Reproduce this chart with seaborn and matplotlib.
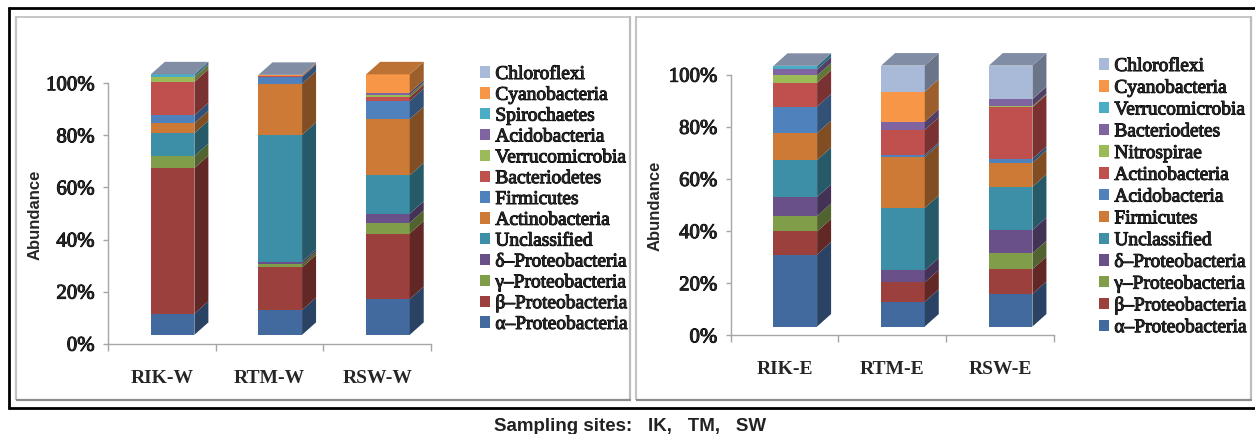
import matplotlib
matplotlib.use('Agg')
import matplotlib.pyplot as plt
import matplotlib.patheffects as pe
from matplotlib.colors import to_rgb
from matplotlib.lines import Line2D
from matplotlib.patches import Patch, Polygon
import numpy as np
import seaborn as sns

nan = float('nan')

west_sites = ['RIK-W', 'RTM-W', 'RSW-W']
west_taxa = ['α–Proteobacteria', 'β–Proteobacteria', 'γ–Proteobacteria', 'δ–Proteobacteria',
             'Unclassified', 'Actinobacteria', 'Firmicutes', 'Bacteriodetes', 'Verrucomicrobia',
             'Acidobacteria', 'Spirochaetes', 'Cyanobacteria', 'Chloroflexi']
west_values = [[8.1, 9.5, 13.7],
               [55.9, 16.4, 25.2],
               [4.6, 1.3, 4.1],
               [0.0, 0.8, 3.5],
               [8.8, 48.8, 14.7],
               [3.8, 19.6, 21.6],
               [3.1, 2.6, 7.0],
               [12.8, 0.2, 1.4],
               [1.7, 0.0, 0.9],
               [0.3, 0.0, 0.9],
               [0.9, 0.2, 0.0],
               [0.0, 0.4, 7.0],
               [0.0, 0.0, nan]]

east_sites = ['RIK-E', 'RTM-E', 'RSW-E']
east_taxa = ['α–Proteobacteria', 'β–Proteobacteria', 'γ–Proteobacteria', 'δ–Proteobacteria',
             'Unclassified', 'Firmicutes', 'Acidobacteria', 'Actinobacteria', 'Nitrospirae',
             'Bacteriodetes', 'Verrucomicrobia', 'Cyanobacteria', 'Chloroflexi']
east_values = [[27.6, 9.5, 12.5],
               [8.9, 7.4, 9.5],
               [5.9, 0.0, 6.1],
               [7.3, 4.6, 8.9],
               [14.2, 24.0, 16.6],
               [10.3, 19.5, 9.2],
               [10.2, 0.8, 1.5],
               [9.1, 9.6, 19.8],
               [2.8, 0.0, 0.4],
               [2.3, 3.2, 2.7],
               [1.4, 0.0, 0.1],
               [0.0, 11.5, 0.0],
               [0.0, 10.0, 12.8]]

percent_ticks = [0, 20, 40, 60, 80, 100]
percent_labels = ['0%', '20%', '40%', '60%', '80%', '100%']

colors = ['#426A9E', '#9C403D', '#809D4A', '#6A5088', '#3C8FA6', '#CC7A36', '#4F81BD',
          '#C0504D', '#9BBB59', '#8064A2', '#4BACC6', '#F79646', '#A9BAD9']

W, H = 1255, 435
BAR_LIFT = 3.4      # the 3D floor sits above the zero line
DEPTH_X = 0.13
DEPTH_Y = 4.8
BAR_WIDTH = 0.405
SERIF = 'Liberation Serif'
HEAVY = [pe.withStroke(linewidth=0.7, foreground='black')]


def shade(color, factor):
    return tuple(c * factor for c in to_rgb(color))


def px_axes(fig, x0, x1, y_top, y_bottom):
    return fig.add_axes([x0 / W, 1 - y_bottom / H, (x1 - x0) / W, (y_bottom - y_top) / H])


def stacked_panel(ax, sites, taxa, values):
    bottom = np.full(len(sites), BAR_LIFT)
    top_color = [colors[0]] * len(sites)

    for i, row in enumerate(values):
        row = np.array(row)
        height = np.nan_to_num(row)
        sns.barplot(x=sites, y=height, bottom=bottom, color=colors[i], saturation=1, width=BAR_WIDTH,
                    errorbar=None, linewidth=0, clip_on=False, ax=ax, zorder=2)
        for j in range(len(sites)):
            if not np.isnan(row[j]):
                top_color[j] = colors[i]
            right = j + BAR_WIDTH / 2
            low, high = bottom[j], bottom[j] + height[j]
            ax.add_patch(Polygon([(right, low), (right + DEPTH_X, low + DEPTH_Y),
                                  (right + DEPTH_X, high + DEPTH_Y), (right, high)],
                                 fc=shade(colors[i], 0.63), lw=0, clip_on=False, zorder=2))
        bottom = bottom + height

    for j in range(len(sites)):
        left, right = j - BAR_WIDTH / 2, j + BAR_WIDTH / 2
        ax.add_patch(Polygon([(left, bottom[j]), (left + DEPTH_X, bottom[j] + DEPTH_Y),
                              (right + DEPTH_X, bottom[j] + DEPTH_Y), (right, bottom[j])],
                             fc=shade(top_color[j], 0.76), lw=0, clip_on=False, zorder=2))

    ax.set_xlim(-0.6, 2.4)
    ax.set_ylim(0, 100)
    ax.set_xticks([-0.6, 0.4, 1.4, 2.4])
    ax.set_xticklabels([])
    ax.set_xticks([-0.1, 0.9, 1.9], labels=sites, minor=True)
    ax.set_yticks(percent_ticks, labels=percent_labels)
    ax.tick_params(axis='x', which='major', length=5, width=1, color='#A6A6A6', direction='out', bottom=True)
    ax.tick_params(axis='x', which='minor', length=0, pad=18)
    ax.tick_params(axis='y', length=3.6, width=1, color='#A6A6A6', direction='out', left=True, pad=6)
    for lab in ax.get_yticklabels():
        lab.set_fontfamily(SERIF)
        lab.set_fontsize(15)
        lab.set_path_effects(HEAVY)
    for lab in ax.get_xticklabels(minor=True):
        lab.set_fontfamily(SERIF)
        lab.set_fontsize(14)
        lab.set_fontweight('bold')
    sns.despine(ax=ax)
    for side in ['left', 'bottom']:
        ax.spines[side].set_color('#A6A6A6')
        ax.spines[side].set_linewidth(1)
    ax.set_xlabel('')
    ax.set_ylabel('')


def add_legend(fig, taxa, x, y, spacing):
    handles = [Patch(fc=c, lw=0) for c in colors]
    leg = fig.legend(handles[::-1], taxa[::-1], loc='upper left', bbox_to_anchor=(x / W, 1 - y / H),
                     bbox_transform=fig.transFigure, frameon=False, borderpad=0, borderaxespad=0,
                     handlelength=0.52, handleheight=0.52, handletextpad=0.27, labelspacing=spacing,
                     prop={'family': SERIF, 'size': 14})
    for t in leg.get_texts():
        t.set_path_effects(HEAVY)


def frame(fig):
    def seg(xs, ys, color, lw):
        fig.add_artist(Line2D([x / W for x in xs], [1 - y / H for y in ys], color=color, lw=lw,
                              solid_capstyle='butt'))
    # outer black box runs off the right edge
    seg([8, W], [9, 9], 'black', 2.0)
    seg([9, 9], [8, 410], 'black', 2.0)
    seg([8, W], [409, 409], 'black', 2.0)
    # the two grey panels
    for x0, x1 in [(16, 630), (636, 1251)]:
        seg([x0, x1], [17.5, 17.5], '#BDBDBD', 1.2)
        seg([x0, x0], [17, 401], '#C4C4C4', 1.6)
        seg([x1, x1], [17, 401], '#BDBDBD', 1.6)
        seg([x0, x1 + 1], [400.5, 400.5], '#8C8C8C', 1.6)


def main():
    sns.set_style('white')

    fig = plt.figure(figsize=(W / 100, H / 100), dpi=100)
    frame(fig)

    ax_w = px_axes(fig, 108, 431, 84.2, 344.7)
    stacked_panel(ax_w, west_sites, west_taxa, west_values)
    ax_e = px_axes(fig, 730.7, 1053.7, 75.7, 336.4)
    stacked_panel(ax_e, east_sites, east_taxa, east_values)

    add_legend(fig, west_taxa, 480, 67, 0.197)
    add_legend(fig, east_taxa, 1099, 59, 0.245)

    fig.text(35 / W, 1 - 215 / H, 'Abundance', rotation=90, ha='center', va='center',
             family='Liberation Sans', weight='bold', fontsize=12)
    fig.text(655 / W, 1 - 205.5 / H, 'Abundance', rotation=90, ha='center', va='center',
             family='Liberation Sans', weight='bold', fontsize=12)
    fig.text(630 / W, 1 - 431 / H, 'Sampling sites:   IK,   TM,   SW', ha='center', va='baseline',
             family='Liberation Sans', weight='bold', fontsize=13.5, color='#222222')

    fig.savefig('out.png', dpi=100)
    plt.close(fig)


if __name__ == '__main__':
    main()
